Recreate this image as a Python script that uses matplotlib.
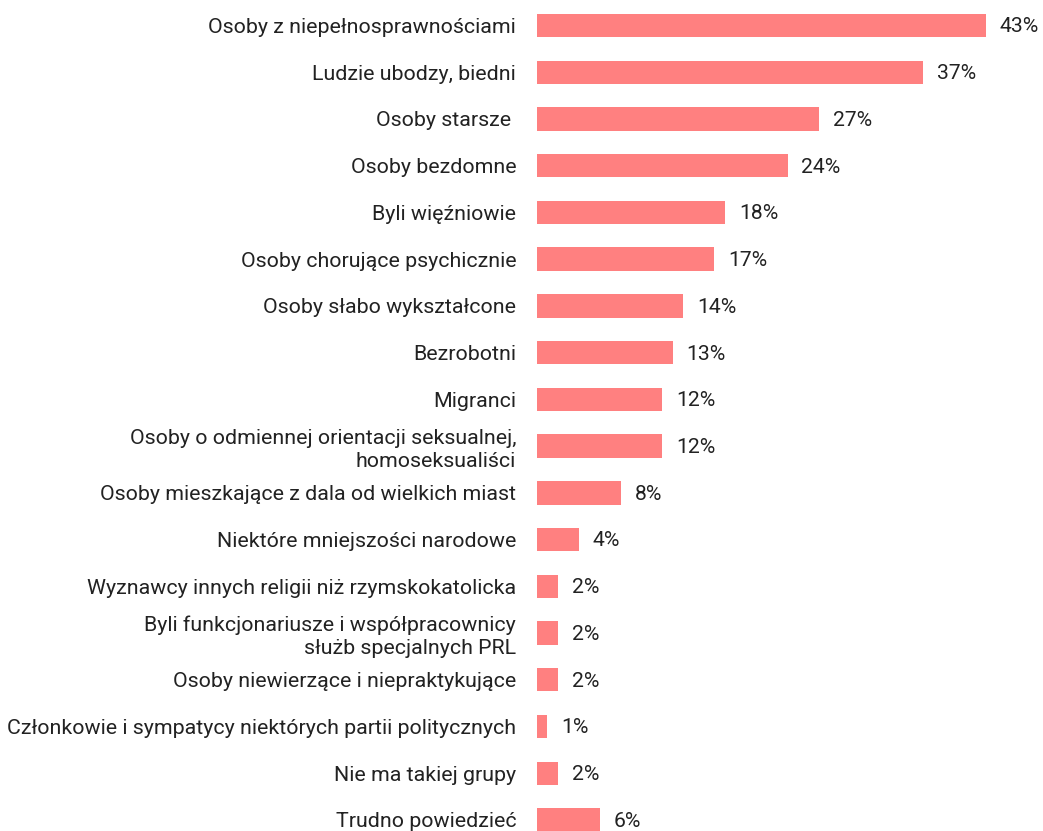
import matplotlib.pyplot as plt

plt.rcParams['font.family'] = ['Roboto', 'DejaVu Sans']

kategorie = [
    "Osoby z niepełnosprawnościami",
    "Ludzie ubodzy, biedni",
    "Osoby starsze ",
    "Osoby bezdomne",
    "Byli więźniowie",
    "Osoby chorujące psychicznie",
    "Osoby słabo wykształcone",
    "Bezrobotni",
    "Migranci",
    "Osoby o odmiennej orientacji seksualnej,\nhomoseksualiści",
    "Osoby mieszkające z dala od wielkich miast",
    "Niektóre mniejszości narodowe",
    "Wyznawcy innych religii niż rzymskokatolicka",
    "Byli funkcjonariusze i współpracownicy\nsłużb specjalnych PRL",
    "Osoby niewierzące i niepraktykujące",
    "Członkowie i sympatycy niektórych partii politycznych",
    "Nie ma takiej grupy",
    "Trudno powiedzieć",
]
wartosci = [43, 37, 27, 24, 18, 17, 14, 13, 12, 12, 8, 4, 2, 2, 2, 1, 2, 6]

fig = plt.figure(figsize=(10.43, 8.31), dpi=100)
ax = fig.add_axes([537 / 1043, 0, 1 - 537 / 1043, 1])

pozycje = list(range(len(kategorie)))
ax.barh(pozycje, wartosci, height=0.5, color='#FF8080')

for y, v in zip(pozycje, wartosci):
    ax.annotate(f"{v}%", (v, y), xytext=(10, -1), textcoords='offset points',
                va='center', ha='left', fontsize=15.2, color='#222222')

ax.set_yticks(pozycje)
ax.set_yticklabels(kategorie, fontsize=15.4, color='#222222', linespacing=1.25)
ax.tick_params(axis='y', length=0, pad=15)
ax.set_xticks([])
ax.set_xlim(0, 48.47)
ax.set_ylim(17.236, -0.546)
for s in ax.spines.values():
    s.set_visible(False)

plt.savefig('out.png', dpi=100)
